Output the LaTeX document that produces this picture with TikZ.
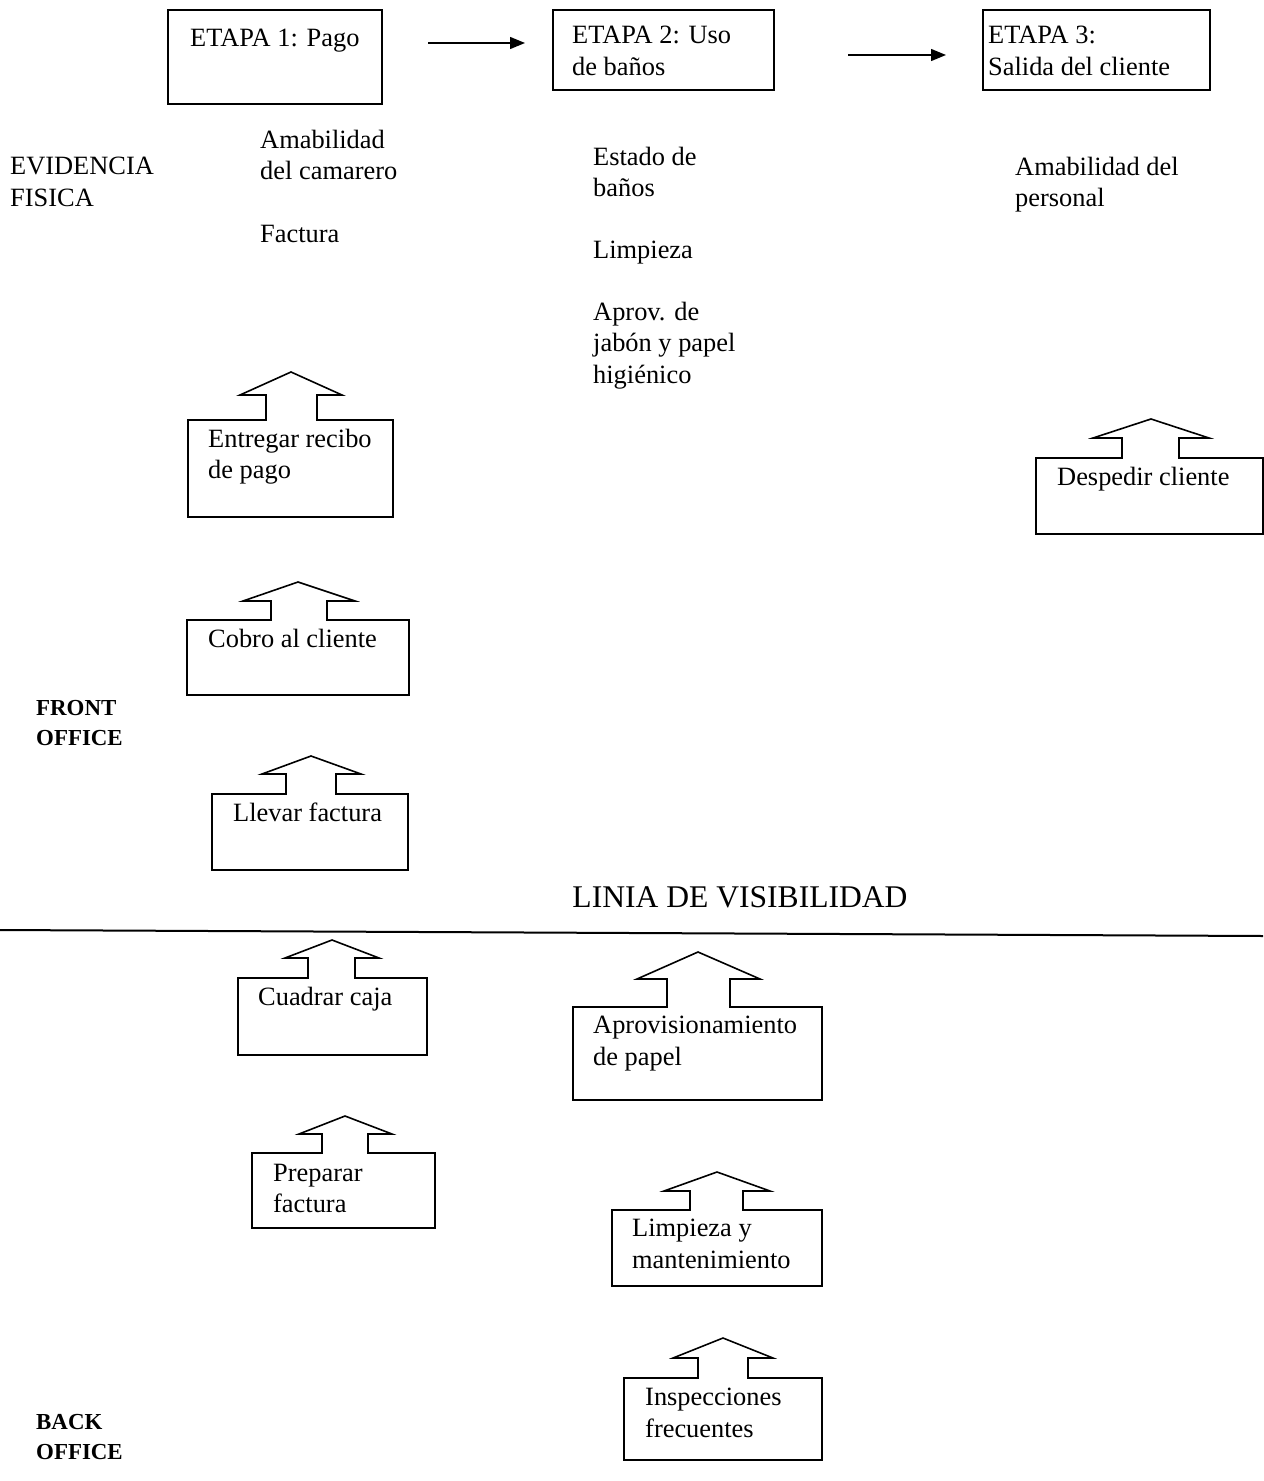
\documentclass[tikz,border=0pt]{standalone}
\usepackage{fontspec}
\setmainfont{Liberation Serif}
\usetikzlibrary{arrows.meta}
\begin{document}
\begin{tikzpicture}[x=1bp,y=-1bp,
  txt/.style={anchor=north west, inner sep=0pt, align=left,
              font=\fontsize{26.5}{31.5}\selectfont},
  lane/.style={anchor=north west, inner sep=0pt, align=left,
              font=\fontsize{23}{30}\selectfont\bfseries},
  outline/.style={draw, line width=1.6bp, line join=miter},
  stagebox/.style={draw, line width=1.4bp},
  flow/.style={line width=1.4bp, -{Triangle[length=15bp,width=12bp]}}]
\useasboundingbox (0,0) rectangle (1263,1481);

% ---- stages ----
\draw[stagebox] (168,10) rectangle (382,104);
\node[txt] (e1) at (190,29) {ETAPA 1: Pago};
\draw[stagebox] (553,10) rectangle (774,90);
\node[txt] (e2) at (572,26) {ETAPA 2: Uso\\de baños};
\draw[stagebox] (983,10) rectangle (1210,90);
\node[txt] (e3) at (988,26) {ETAPA 3:\\Salida del cliente};
\coordinate (a1s) at (428,43); \coordinate (a1e) at (525,43);
\coordinate (a2s) at (848,55); \coordinate (a2e) at (946,55);
\draw[flow] (a1s) -- (a1e);
\draw[flow] (a2s) -- (a2e);

% ---- physical evidence ----
\node[txt] (ev) at (10,157) {EVIDENCIA\\FISICA};
\node[txt] (p1) at (260,130) {Amabilidad\\del camarero};
\node[txt] (p2) at (260,225) {Factura};
\node[txt] (p3) at (593,147) {Estado de\\baños};
\node[txt] (p4) at (593,241) {Limpieza};
\node[txt] (p5) at (593,302) {Aprov. de\\jabón y papel\\higiénico};
\node[txt] (p6) at (1015,157) {Amabilidad del\\personal};

% ---- front office actions ----
\draw[outline] (188,517) -- (188,420) -- (266,420) -- (266,395) -- (240,395)
  -- (291,372) -- (342,395) -- (317,395) -- (317,420) -- (393,420) -- (393,517) -- cycle;
\node[txt] (f1) at (208,429) {Entregar recibo\\de pago};

\draw[outline] (187,695) -- (187,620) -- (271,620) -- (271,601) -- (243,601)
  -- (298,582) -- (355,601) -- (327,601) -- (327,620) -- (409,620) -- (409,695) -- cycle;
\node[txt] (f2) at (208,629) {Cobro al cliente};

\draw[outline] (212,870) -- (212,794) -- (286,794) -- (286,774) -- (262,774)
  -- (311,756) -- (361,774) -- (336,774) -- (336,794) -- (408,794) -- (408,870) -- cycle;
\node[txt] (f3) at (233,803) {Llevar factura};

\draw[outline] (1036,534) -- (1036,458) -- (1122,458) -- (1122,438) -- (1093,438)
  -- (1151,419) -- (1209,438) -- (1179,438) -- (1179,458) -- (1263,458) -- (1263,534) -- cycle;
\node[txt] (f4) at (1057,467) {Despedir cliente};

\node[lane] (fo) at (36,700) {FRONT\\OFFICE};

% ---- line of visibility ----
\node[anchor=center, inner sep=0pt, font=\fontsize{31.7}{36}\selectfont] (lv) at (740,897) {LINIA DE VISIBILIDAD};
\coordinate (v1) at (0,930); \coordinate (v2) at (1263,936);
\draw[line width=2bp] (v1) -- (v2);

% ---- back office actions ----
\draw[outline] (238,1055) -- (238,978) -- (308,978) -- (308,958) -- (285,958)
  -- (332,940) -- (379,958) -- (355,958) -- (355,978) -- (427,978) -- (427,1055) -- cycle;
\node[txt] (b1) at (258,987) {Cuadrar caja};

\draw[outline] (573,1100) -- (573,1007) -- (667,1007) -- (667,979) -- (637,979)
  -- (698,952) -- (760,979) -- (730,979) -- (730,1007) -- (822,1007) -- (822,1100) -- cycle;
\node[txt] (b2) at (593,1016) {Aprovisionamiento\\de papel};

\draw[outline] (252,1228) -- (252,1153) -- (322,1153) -- (322,1134) -- (299,1134)
  -- (345,1116) -- (392,1134) -- (368,1134) -- (368,1153) -- (435,1153) -- (435,1228) -- cycle;
\node[txt] (b3) at (273,1164) {Preparar\\factura};

\draw[outline] (612,1286) -- (612,1210) -- (690,1210) -- (690,1191) -- (664,1191)
  -- (717,1172) -- (770,1191) -- (743,1191) -- (743,1210) -- (822,1210) -- (822,1286) -- cycle;
\node[txt] (b4) at (632,1219) {Limpieza y\\mantenimiento};

\draw[outline] (624,1460) -- (624,1378) -- (698,1378) -- (698,1358) -- (673,1358)
  -- (723,1338) -- (773,1358) -- (748,1358) -- (748,1378) -- (822,1378) -- (822,1460) -- cycle;
\node[txt] (b5) at (645,1388) {Inspecciones\\frecuentes};

\node[lane] (bo) at (36,1414) {BACK\\OFFICE};
\end{tikzpicture}
\end{document}
